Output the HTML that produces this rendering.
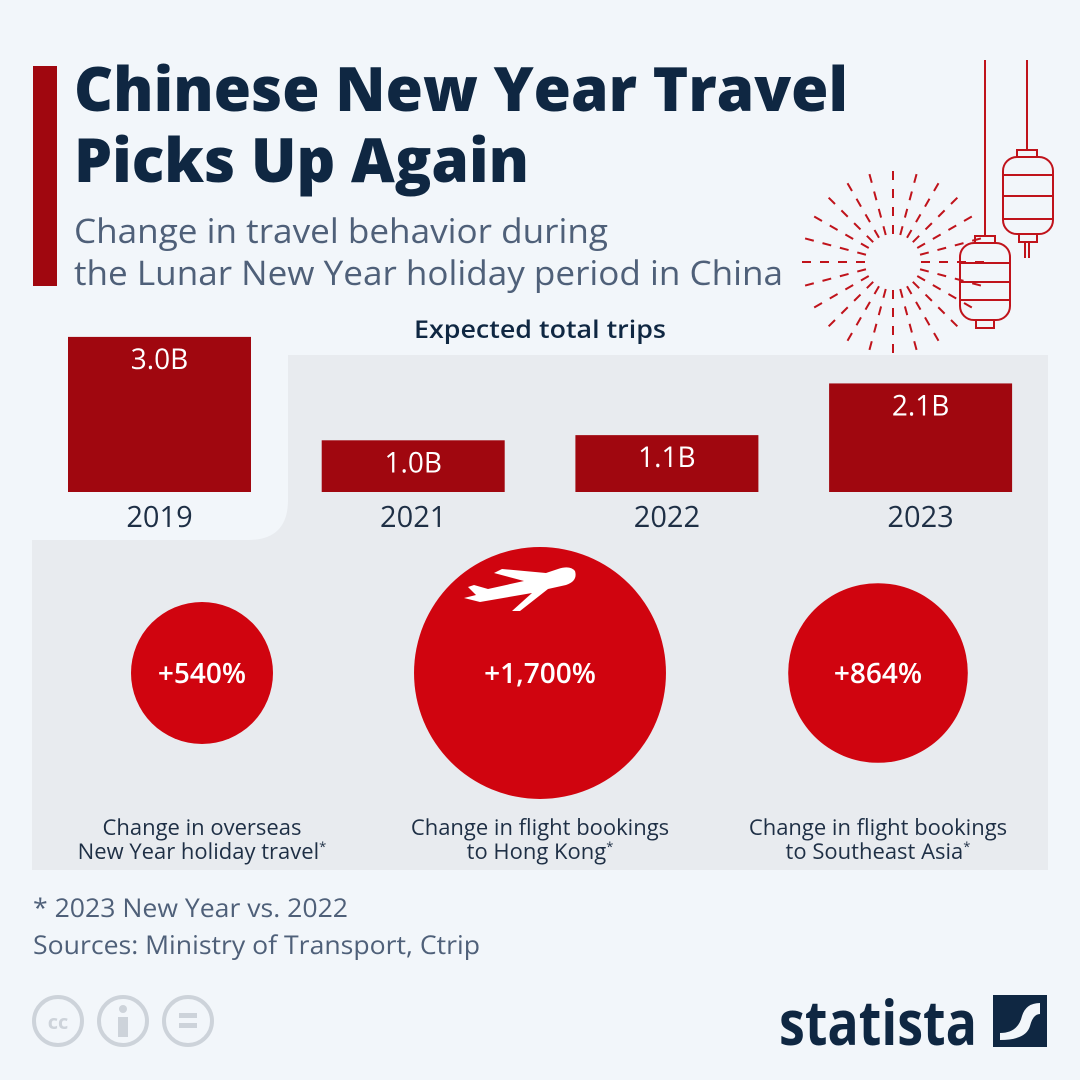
<!DOCTYPE html>
<html><head><meta charset="utf-8"><style>
body{margin:0;background:#f2f6fa;}
svg{display:block;font-family:"Open Sans","Liberation Sans","DejaVu Sans",sans-serif;}
</style></head><body>
<svg id="c" width="1080" height="1080" viewBox="0 0 1080 1080" xmlns="http://www.w3.org/2000/svg">
<rect width="1080" height="1080" fill="#f2f6fa"/>
<rect x="33" y="66" width="24" height="220" fill="#a0070f"/>
<text x="74" y="111" font-size="61" font-weight="800" fill="#0f2742" textLength="774" lengthAdjust="spacingAndGlyphs">Chinese New Year Travel</text>
<text x="74" y="182" font-size="61" font-weight="800" fill="#0f2742" textLength="455" lengthAdjust="spacingAndGlyphs">Picks Up Again</text>
<text x="74" y="243" font-size="34" fill="#4f6079" textLength="534" lengthAdjust="spacingAndGlyphs">Change in travel behavior during</text>
<text x="74" y="285" font-size="34" fill="#4f6079" textLength="709" lengthAdjust="spacingAndGlyphs">the Lunar New Year holiday period in China</text>
<g id="fw"></g>
<g stroke="#c0131b" stroke-width="2" fill="none">
<line x1="985" y1="60" x2="985" y2="236"/><rect x="975" y="236" width="20" height="7"/>
<rect x="960" y="243" width="50" height="77" rx="14"/><line x1="960" y1="263" x2="1010" y2="263"/><line x1="960" y1="282" x2="1010" y2="282"/><line x1="960" y1="300" x2="1010" y2="300"/>
<rect x="976" y="320" width="18" height="8"/>
<line x1="1027" y1="60" x2="1027" y2="150"/><rect x="1017" y="150" width="20" height="7"/>
<rect x="1003" y="157" width="50" height="77" rx="14"/><line x1="1003" y1="175" x2="1053" y2="175"/><line x1="1003" y1="196" x2="1053" y2="196"/><line x1="1003" y1="219" x2="1053" y2="219"/>
<rect x="1019" y="234" width="18" height="8"/><line x1="1025" y1="242" x2="1025" y2="258"/><line x1="1029" y1="242" x2="1029" y2="258"/>
</g>
<path d="M288 355 H1048 V870 H32 V540 H248 Q288 540 288 500 Z" fill="#e8ebef"/>
<text x="540" y="338" font-size="24" font-weight="600" fill="#0f2742" text-anchor="middle" textLength="252" lengthAdjust="spacingAndGlyphs">Expected total trips</text>
<g id="bars"></g>
<g id="circles"></g>
<g fill="#ffffff" transform="translate(462,565)">
<path d="M2 33 L18 37 L70 28 L50 46 L58 46 L86 24 L104 20 Q116 16 113 6 Q108 0 96 4 L84 8 L40 4 L32 8 L62 16 L26 24 L12 20 L6 22 L14 30 Z"/>
</g>
<text x="33" y="917" font-size="26" fill="#4f6079" textLength="315" lengthAdjust="spacingAndGlyphs">* 2023 New Year vs. 2022</text>
<text x="33" y="954" font-size="26" fill="#4f6079" textLength="447" lengthAdjust="spacingAndGlyphs">Sources: Ministry of Transport, Ctrip</text>
<g fill="none" stroke="#cdd3da" stroke-width="4">
<circle cx="58" cy="1021" r="24"/><circle cx="123" cy="1021" r="24"/><circle cx="188" cy="1021" r="24"/>
</g>
<text x="58" y="1029" font-size="20" font-weight="bold" fill="#cdd3da" text-anchor="middle">cc</text>
<rect x="118" y="1017" width="10" height="20" fill="#cdd3da"/><circle cx="123" cy="1009" r="4" fill="#cdd3da"/>
<rect x="179" y="1013" width="18" height="5" fill="#cdd3da"/><rect x="179" y="1023" width="18" height="5" fill="#cdd3da"/>
<text x="977" y="1045" font-size="62" font-weight="bold" fill="#0f2742" text-anchor="end" textLength="198" lengthAdjust="spacingAndGlyphs">statista</text>
<g><rect x="993" y="995" width="54" height="52" fill="#0f2742"/><path d="M1000 1033 Q1018 1033 1022 1016 Q1026 1003 1040 1003 V1014 Q1033 1014 1030 1026 Q1026 1040 1000 1040 Z" fill="#f2f6fa"/></g>
</svg>
<script>
const years=["2019","2021","2022","2023"];
const trips=[3.0,1.0,1.1,2.1];
const tripLabels=["3.0B","1.0B","1.1B","2.1B"];
const circleValues=[540,1700,864];
const circleLabels=["+540%","+1,700%","+864%"];
const circleCaptions=[["Change in overseas","New Year holiday travel"],["Change in flight bookings","to Hong Kong"],["Change in flight bookings","to Southeast Asia"]];
const NS="http://www.w3.org/2000/svg";
function mk(t,a,p){const e=document.createElementNS(NS,t);for(const k in a)e.setAttribute(k,a[k]);p.appendChild(e);return e;}
const baseY=492, pxPerB=51.7;
const yScale=v=>baseY-v*pxPerB;
const xBand=i=>68+i*253.7;
const bw=183;
const bg=document.getElementById('bars');
trips.forEach((v,i)=>{
 const r=mk('rect',{x:xBand(i),y:yScale(v),width:bw,height:baseY-yScale(v),fill:'#a0070f'},bg);
 
 
 const t=mk('text',{x:xBand(i)+bw/2,y:yScale(v)+32,'font-size':28,'font-weight':500,fill:'#fff','text-anchor':'middle'},bg);
 t.textContent=tripLabels[i];
 
 
 const y=mk('text',{x:xBand(i)+bw/2,y:527,'font-size':29,fill:'#1e2f45','text-anchor':'middle'},bg);
 y.textContent=years[i];
 
 
});
const cg=document.getElementById('circles');
const rScale=v=>71*Math.sqrt(v/540);
const cx=i=>202+i*338;
circleValues.forEach((v,i)=>{
 const c=mk('circle',{cx:cx(i),cy:673,r:rScale(v),fill:'#d0040f'},cg);
 
 
 const t=mk('text',{x:cx(i),y:683,'font-size':28,'font-weight':600,fill:'#fff','text-anchor':'middle'},cg);
 t.textContent=circleLabels[i];
 
 
 circleCaptions[i].forEach((s,j)=>{
  const l=mk('text',{x:cx(i),y:835+j*24,'font-size':22,fill:'#1e2f45','text-anchor':'middle'},cg);
  l.textContent=s;
  if(j===1){const sp=mk('tspan',{'font-size':13,dy:-8},l);sp.textContent='*';}
  
  
 });
});
const fw=document.getElementById('fw');
for(let a=0;a<360;a+=15){
 const rad=a*Math.PI/180, c=Math.cos(rad), s=Math.sin(rad);
 mk('line',{x1:893+c*28,y1:262+s*28,x2:893+c*92,y2:262+s*92,stroke:'#c0131b','stroke-width':2,'stroke-dasharray':'9 9'},fw);
}
</script>
</body></html>
